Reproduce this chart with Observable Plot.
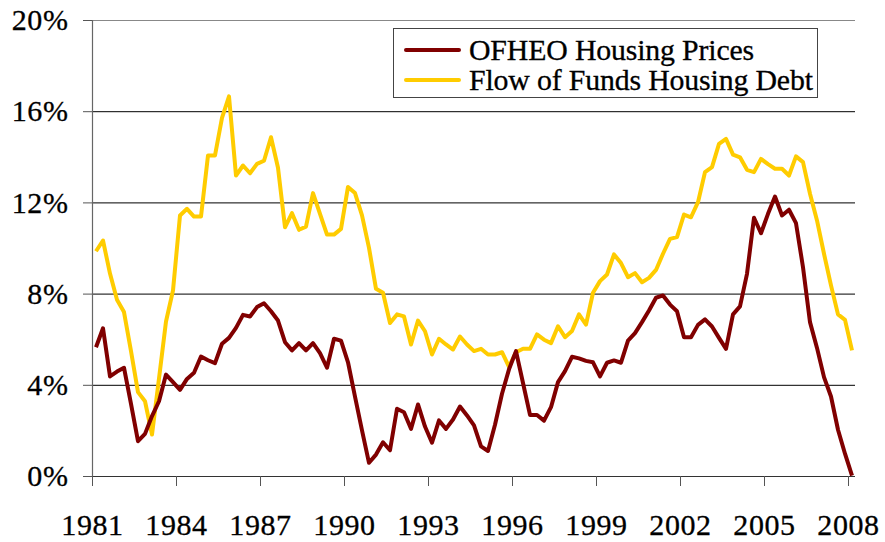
<!DOCTYPE html>
<html>
<head>
<meta charset="utf-8">
<script src="https://cdn.jsdelivr.net/npm/d3@7"></script>
<script src="https://cdn.jsdelivr.net/npm/@observablehq/plot@0.6"></script>
<style>
  html, body { margin: 0; padding: 0; background: #fff; }
  #wrap { position: relative; width: 885px; height: 542px; }
  #legend {
    position: absolute; left: 393px; top: 28px; width: 423px; height: 68px;
    border: 1px solid #444; background: #fff; box-sizing: content-box; overflow: hidden;
    font-family: "Liberation Serif", "Times New Roman", serif; font-size: 29.8px; color: #000;
    -webkit-text-stroke: 0.3px #000;
  }
  .item { position: absolute; left: 0; height: 28px; white-space: nowrap; }
  .sw { position: absolute; left: 10px; width: 57px; height: 4px; border-radius: 2px; }
  .lab { position: absolute; left: 75px; line-height: 28px; letter-spacing: -0.15px; }
  svg text { font-family: "Liberation Serif", "Times New Roman", serif; letter-spacing: 0.6px; stroke: #000; stroke-width: 0.3px; }
</style>
</head>
<body>
<div id="wrap">
  <div id="chart"></div>
  <div id="legend"></div>
</div>
<script>
// Quarterly series, 1981Q1 .. 2008Q1 (percent, year-over-year growth)
const startYear = 1981;
const seriesNames = ["OFHEO Housing Prices", "Flow of Funds Housing Debt"];
const seriesColors = ["#800000", "#FFCC00"];

const ofheo = [
  5.67, 6.5, 4.39, 4.6, 4.77, 3.19, 1.55, 1.87, 2.65, 3.3,
  4.47, 4.14, 3.8, 4.28, 4.55, 5.26, 5.1, 4.97, 5.82, 6.08,
  6.52, 7.09, 7.02, 7.43, 7.6, 7.25, 6.84, 5.89, 5.53, 5.85,
  5.53, 5.85, 5.41, 4.77, 6.04, 5.96, 5.01, 3.5, 2.02, 0.6,
  0.96, 1.5, 1.15, 2.97, 2.82, 2.09, 3.16, 2.19, 1.48, 2.46,
  2.09, 2.5, 3.07, 2.68, 2.24, 1.32, 1.12, 2.27, 3.63, 4.7,
  5.5, 4.1, 2.7, 2.7, 2.45, 3.04, 4.14, 4.62, 5.25, 5.18,
  5.07, 5.01, 4.39, 4.99, 5.09, 4.99, 5.96, 6.29, 6.77, 7.28,
  7.84, 7.94, 7.54, 7.25, 6.11, 6.11, 6.65, 6.89, 6.58, 6.08,
  5.6, 7.11, 7.46, 8.89, 11.35, 10.67, 11.52, 12.28, 11.45, 11.7,
  11.11, 9.18, 6.77, 5.64, 4.36, 3.51, 2.05, 1.0, 0.04
];

const flowOfFunds = [
  9.88, 10.35, 8.9, 7.75, 7.21, 5.5, 3.7, 3.3, 1.84, 4.3,
  6.8, 8.16, 11.45, 11.74, 11.4, 11.4, 14.08, 14.08, 15.73, 16.67,
  13.2, 13.64, 13.3, 13.71, 13.85, 14.88, 13.54, 10.93, 11.55, 10.82,
  10.96, 12.43, 11.52, 10.61, 10.61, 10.86, 12.7, 12.43, 11.45, 10.03,
  8.23, 8.06, 6.73, 7.11, 7.02, 5.79, 6.84, 6.37, 5.35, 6.04,
  5.79, 5.57, 6.14, 5.79, 5.5, 5.6, 5.35, 5.35, 5.45, 4.81,
  5.45, 5.6, 5.6, 6.23, 6.0, 5.85, 6.59, 6.11, 6.38, 7.11,
  6.66, 8.06, 8.57, 8.86, 9.74, 9.36, 8.74, 8.92, 8.52, 8.71,
  9.06, 9.77, 10.42, 10.5, 11.49, 11.37, 12.03, 13.35, 13.57, 14.59,
  14.81, 14.12, 14.0, 13.45, 13.35, 13.93, 13.7, 13.5, 13.5, 13.2,
  14.04, 13.79, 12.4, 11.23, 9.77, 8.38, 7.11, 6.87, 5.53
];

const yearTicks = [1981, 1984, 1987, 1990, 1993, 1996, 1999, 2002, 2005, 2008];
const yTicks = [0, 4, 8, 12, 16, 20];
const gridValues = [4, 8, 12, 16];

// Build long table: each quarter sits in the middle of its quarter-band
function toRows(values, name) {
  return values.map((v, i) => ({
    t: startYear + Math.floor(i / 4) + (i % 4) / 4 + 0.125,
    v, name
  }));
}
const rows = [...toRows(flowOfFunds, seriesNames[1]), ...toRows(ofheo, seriesNames[0])];
const xDomain = [startYear, startYear + (ofheo.length) / 4];

const chart = Plot.plot({
  width: 885,
  height: 542,
  marginLeft: 92,
  marginRight: 30,
  marginTop: 20,
  marginBottom: 66,
  style: { fontFamily: "'Liberation Serif', 'Times New Roman', serif", fontSize: "30px", color: "#000", background: "#fff" },
  x: { domain: xDomain, label: null },
  y: { domain: [0, 20], label: null },
  color: { domain: seriesNames, range: seriesColors },
  marks: [
    Plot.ruleY(gridValues, { stroke: "#000", strokeWidth: 1 }),
    Plot.ruleY(yTicks.slice(-1), { stroke: "#888", strokeWidth: 1.2 }),
    Plot.ruleY(yTicks.slice(0, 1), { stroke: "#333", strokeWidth: 1.2 }),
    Plot.ruleX(xDomain.slice(0, 1), { stroke: "#666", strokeWidth: 1.2 }),
    Plot.axisY({ ticks: yTicks, tickFormat: d => d + "%", tickSize: 9, tickPadding: 15, stroke: "#555", fill: "#000" }),
    Plot.axisX({ ticks: yearTicks, tickFormat: d => String(d), tickSize: 10, tickPadding: 27, stroke: "#555", fill: "#000" }),
    Plot.line(rows, { x: "t", y: "v", z: "name", stroke: "name", strokeWidth: 4, strokeLinejoin: "round", strokeLinecap: "butt" })
  ]
});
document.getElementById("chart").appendChild(chart);

// Legend (HTML overlay)
const legend = document.getElementById("legend");
seriesNames.forEach((name, i) => {
  const item = document.createElement("div");
  item.className = "item";
  item.style.top = (7 + i * 30) + "px";
  const sw = document.createElement("div");
  sw.className = "sw";
  sw.style.background = seriesColors[i];
  sw.style.top = "12px";
  const lab = document.createElement("div");
  lab.className = "lab";
  lab.textContent = name;
  item.appendChild(sw);
  item.appendChild(lab);
  legend.appendChild(item);
});
</script>
</body>
</html>
